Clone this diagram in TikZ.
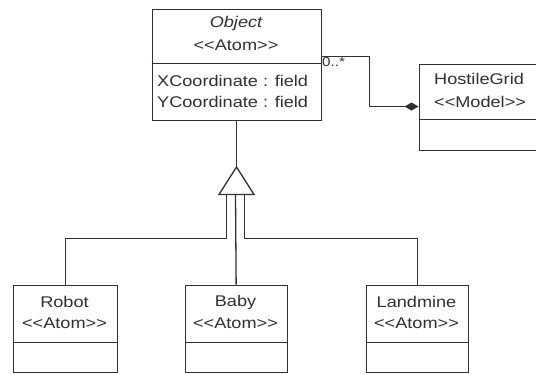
\documentclass[tikz,border=0pt]{standalone}
\usepackage{fontspec}
\setmainfont[FakeStretch=1.17]{Liberation Sans}
\usetikzlibrary{arrows.meta}
\definecolor{ink}{HTML}{303030}
\newcommand\stereo[1]{{<}{<}#1{>}{>}}
\tikzset{
  box/.style={draw=ink, line width=1.3pt, inner sep=0pt, anchor=north west, fill=white},
  txt/.style={inner sep=0pt, text=ink, font=\fontsize{15.5}{18}\selectfont},
  small/.style={inner sep=0pt, text=ink, font=\fontsize{13}{15}\selectfont},
  conn/.style={draw=ink, line width=1.3pt},
  divider/.style={draw=ink, line width=1.3pt}
}
\begin{document}
\begin{tikzpicture}[x=1pt,y=-1pt]
\useasboundingbox (0,0) rectangle (536,373);
\clip (0,0) rectangle (536,373);
% Object
\node[box, minimum width=169pt, minimum height=111pt] (obj) at (151.5,8.5) {};
\draw[divider] (151.5,63.5) -- (320.5,63.5);
\node[txt] (objname) at (236,23) {\itshape Object};
\node[txt] (objst) at (236,45) {\stereo{Atom}};
\node[txt, anchor=west] (xc) at (157,81) {XCoordinate : field};
\node[txt, anchor=west] (yc) at (157,102) {YCoordinate : field};
% HostileGrid
\node[box, minimum width=130pt, minimum height=86pt] (hg) at (418.5,63.5) {};
\draw[divider] (418.5,119.5) -- (548.5,119.5);
\node[txt, anchor=west] (hgname) at (434,79) {HostileGrid};
\node[txt, anchor=west] (hgst) at (434,102) {\stereo{Model}};
% Robot
\node[box, minimum width=104pt, minimum height=87pt] (robot) at (12.5,284.5) {};
\draw[divider] (12.5,342.5) -- (116.5,342.5);
\node[txt] (robotname) at (64.5,302) {Robot};
\node[txt] (robotst) at (64.5,323) {\stereo{Atom}};
% Baby
\node[box, minimum width=102pt, minimum height=87pt] (baby) at (184.5,284.5) {};
\draw[divider] (184.5,342.5) -- (286.5,342.5);
\node[txt] (babyname) at (235.5,302) {Baby};
\node[txt] (babyst) at (235.5,323) {\stereo{Atom}};
% Landmine
\node[box, minimum width=102pt, minimum height=87pt] (land) at (365.5,284.5) {};
\draw[divider] (365.5,342.5) -- (467.5,342.5);
\node[txt] (landname) at (416.5,302) {Landmine};
\node[txt] (landst) at (416.5,323) {\stereo{Atom}};
% Generalization
\coordinate (apex) at (236.5,167);
\coordinate (bl) at (219,194.5);
\coordinate (br) at (254,194.5);
\draw[conn] (obj.south -| apex) -- (apex);
\draw[conn, line join=miter] (apex) -- (bl) -- (br) -- cycle;
\draw[conn] (226.5,194.5) -- (226.5,238.5) -| (robot.north);
\draw[conn] (235.5,194.5) -- (baby.north);
\draw[conn] (244.5,194.5) -- (244.5,238.5) -| (land.north);
% Association with composition diamond
\draw[conn, -{Diamond[length=14pt,width=8pt,fill=ink]}] (obj.east |- 0,56.5) -- (369.5,56.5) -- (369.5,106.5) -- (hg.west |- 0,106.5);
\node[small, anchor=west] (mult) at (322,62) {0..*};
\end{tikzpicture}
\end{document}
